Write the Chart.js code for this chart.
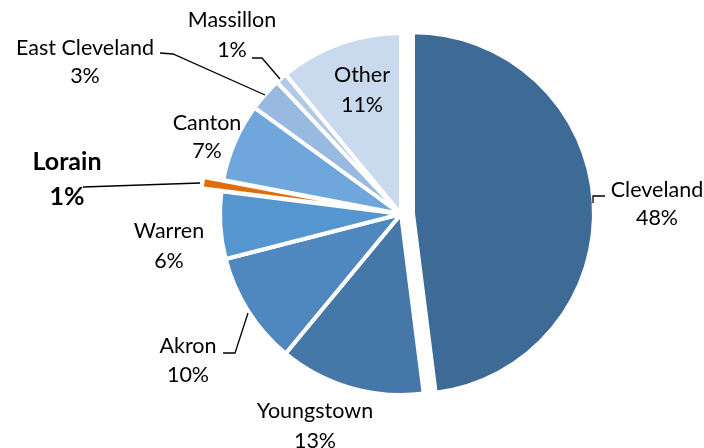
<!DOCTYPE html>
<html>
<head>
<meta charset="utf-8">
<style>
    body { margin: 0; background: #ffffff; }
    .chart-wrap { width: 704px; height: 448px; position: relative; }
</style>
</head>
<body>
<div class="chart-wrap">
    <canvas id="cities"></canvas>
</div>
<script src="https://cdn.jsdelivr.net/npm/chart.js"></script>
<script>
    //chart data
    const categories = ['Cleveland', 'Youngstown', 'Akron', 'Warren', 'Lorain', 'Canton', 'East Cleveland', 'Massillon', 'Other'];
    const shares = [48, 13, 10, 6, 1, 7, 3, 1, 11];

    //styles
    const sliceColors = ['#3d6b95', '#4577a9', '#4f88be', '#5596d0', '#e36c0a', '#6fa6db', '#98b9e0', '#b3cae7', '#c9d9ee'];
    const explode = [12, 0, 0, 0, 20, 0, 0, 0, 0];
    const labelFont = '21.5px Lato';
    const boldFont = 'bold 25px Lato';

    //label placement: x centre, baselines of both lines, optional leader line
    const labelSpots = [
        {x: 657, y1: 197, y2: 225, leader: [[593, 203], [593, 196], [605, 196]]},
        {x: 315, y1: 418, y2: 448},
        {x: 188, y1: 353, y2: 382, leader: [[223, 353], [235, 353], [248, 313]]},
        {x: 169, y1: 238, y2: 268},
        {x: 67, y1: 170, y2: 205, bold: true, leader: [[83, 187], [200, 183]]},
        {x: 207, y1: 130, y2: 158},
        {x: 85, y1: 55, y2: 83, leader: [[160, 53], [173, 54], [265, 95]]},
        {x: 232, y1: 27, y2: 57, leader: [[252, 58], [262, 58], [280, 79]]},
        {x: 362, y1: 82, y2: 112}
    ];

    //push exploded slices out along their middle angle
    const explodePlugin = {
        id: 'explodeSlices',
        afterDatasetUpdate(chart, args) {
            args.meta.data.forEach((arc, i) => {
                const d = explode[i];
                if (!d) return;
                const mid = (arc.startAngle + arc.endAngle) / 2;
                arc.x += Math.cos(mid) * d;
                arc.y += Math.sin(mid) * d;
            });
        }
    };

    const labelPlugin = {
        id: 'sliceLabels',
        afterDraw(chart) {
            const ctx = chart.ctx;
            ctx.save();
            ctx.fillStyle = '#000000';
            ctx.strokeStyle = '#000000';
            ctx.lineWidth = 1.3;
            ctx.textAlign = 'center';
            ctx.textBaseline = 'alphabetic';
            labelSpots.forEach((spot, i) => {
                ctx.font = spot.bold ? boldFont : labelFont;
                ctx.fillText(categories[i], spot.x, spot.y1);
                ctx.fillText(shares[i] + '%', spot.x, spot.y2);
                if (spot.leader) {
                    ctx.beginPath();
                    spot.leader.forEach((p, j) => j === 0 ? ctx.moveTo(p[0], p[1]) : ctx.lineTo(p[0], p[1]));
                    ctx.stroke();
                }
            });
            ctx.restore();
        }
    };

    const cities = document.getElementById('cities');
    new Chart(cities, {
        type: 'pie',
        data: {
            labels: categories,
            datasets: [{
                data: shares,
                backgroundColor: sliceColors,
                borderColor: '#ffffff',
                borderWidth: 4
            }]
        },
        options: {
            responsive: true,
            maintainAspectRatio: false,
            animation: false,
            events: [],
            radius: 181,
            layout: {padding: {left: 98, right: 0, top: 0, bottom: 20}},
            plugins: {
                legend: {display: false},
                tooltip: {enabled: false}
            }
        },
        plugins: [explodePlugin, labelPlugin]
    });
</script>
</body>
</html>
